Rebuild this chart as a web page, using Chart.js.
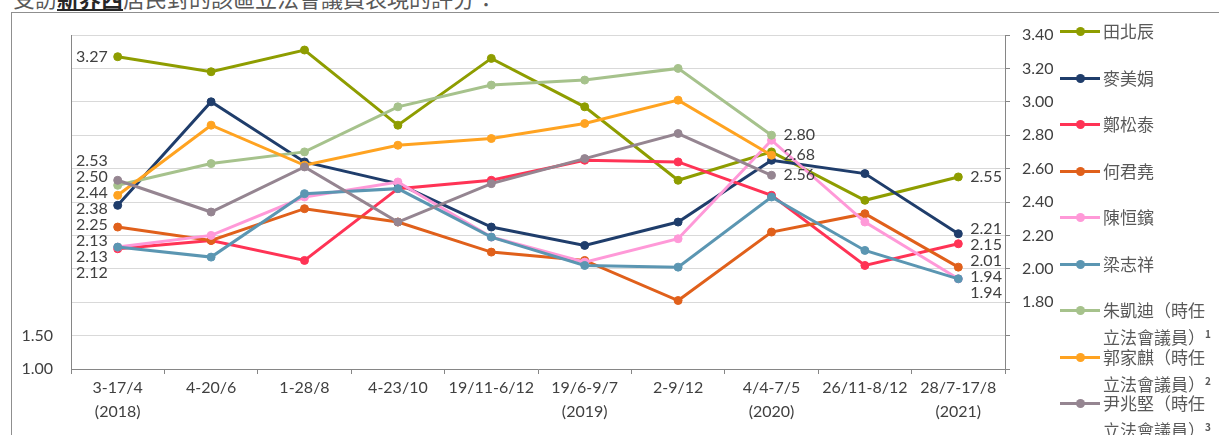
<!DOCTYPE html>
<html>
<head>
<meta charset="utf-8">
<script src="https://cdn.jsdelivr.net/npm/chart.js@4.4.1/dist/chart.umd.min.js"></script>
<style>
  html, body { margin: 0; padding: 0; background: #fff; overflow: hidden; }
  body { width: 1219px; height: 435px; position: relative; }
  .heading { position: absolute; left: 13px; top: -16px; font: 22px/26px "Noto Sans CJK TC", sans-serif; color: #595959; white-space: nowrap; }
  .heading b { color: #262626; text-decoration: underline; }
  .frame { position: absolute; left: 11px; top: 12px; width: 1300px; height: 500px; border: 1px solid #8f8f8f; box-sizing: border-box; }
  #chart { position: absolute; left: 0; top: 0; }
  .legend { position: absolute; left: 1060px; top: 0; }
  .legend .item { position: absolute; left: 0; display: flex; align-items: flex-start; }
  .legend .swatch { position: relative; width: 40px; height: 24px; flex: none; }
  .legend .swatch .ln { position: absolute; left: 0; top: 11px; width: 40px; height: 3px; }
  .legend .swatch .dot { position: absolute; left: 16px; top: 8px; width: 9px; height: 9px; border-radius: 50%; }
  .legend .txt { margin-left: 3px; width: 116px; font: 17px/24px "Noto Sans CJK TC", sans-serif; color: #595959; }
  .legend sup { font-size: 10px; font-weight: bold; vertical-align: 6px; }
</style>
</head>
<body>
<div class="heading">受訪<b>新界西</b>居民對的該區立法會議員表現的評分：</div>
<div class="frame"></div>
<canvas id="chart" width="1219" height="435"></canvas>
<div class="legend" id="legend"></div>
<script>
// survey rounds
const categories = [['3-17/4', '(2018)'], '4-20/6', '1-28/8', '4-23/10', '19/11-6/12',
  ['19/6-9/7', '(2019)'], '2-9/12', ['4/4-7/5', '(2020)'], '26/11-8/12', ['28/7-17/8', '(2021)']];

const seriesNames = ['田北辰', '麥美娟', '鄭松泰', '何君堯', '陳恒鑌', '梁志祥',
  '朱凱迪（時任立法會議員）', '郭家麒（時任立法會議員）', '尹兆堅（時任立法會議員）'];
const noteMarks = ['', '', '', '', '', '', '1', '2', '3'];
const seriesColors = ['#8e9d00', '#1f3d6b', '#ff3355', '#e0601b', '#ff99d8', '#5b96b2', '#a6c28c', '#ffa321', '#958591'];

const tinPakChun     = [3.27, 3.18, 3.31, 2.86, 3.26, 2.97, 2.53, 2.70, 2.41, 2.55];
const maiMeiKuen     = [2.38, 3.00, 2.64, 2.51, 2.25, 2.14, 2.28, 2.65, 2.57, 2.21];
const chengChungTai  = [2.12, 2.17, 2.05, 2.48, 2.53, 2.65, 2.64, 2.44, 2.02, 2.15];
const hoKwanYiu      = [2.25, 2.17, 2.36, 2.28, 2.10, 2.05, 1.81, 2.22, 2.33, 2.01];
const chanHangPan    = [2.13, 2.20, 2.43, 2.52, 2.19, 2.04, 2.18, 2.77, 2.28, 1.94];
const leungCheCheung = [2.13, 2.07, 2.45, 2.48, 2.19, 2.02, 2.01, 2.43, 2.11, 1.94];
const chuHoiDick     = [2.50, 2.63, 2.70, 2.97, 3.10, 3.13, 3.20, 2.80];
const kwokKaKi       = [2.44, 2.86, 2.62, 2.74, 2.78, 2.87, 3.01, 2.68];
const wanSiuKin      = [2.53, 2.34, 2.61, 2.28, 2.51, 2.66, 2.81, 2.56];

const seriesValues = [tinPakChun, maiMeiKuen, chengChungTai, hoKwanYiu, chanHangPan,
  leungCheCheung, chuHoiDick, kwokKaKi, wanSiuKin];

// axes: right one carries the data, left one only shows two labels
const rightMin = 1.4, rightMax = 3.4, rightStep = 0.2, rightFirstLabel = 1.8;
const leftMin = 1, leftMax = 6, leftStep = 0.5;
const leftLabels = [1.0, 1.5];

const numFont = 'Lato, "Liberation Sans", sans-serif';
const axisGrey = '#868686';
const textGrey = '#404040';

// spread labels of one column so they don't overlap
function spread(list, gap) {
  list.sort((a, b) => a.y - b.y);
  let clusters = list.map(l => ({ items: [l], center: l.y }));
  let merged = true;
  while (merged) {
    merged = false;
    for (let i = 0; i < clusters.length - 1; i++) {
      const a = clusters[i], b = clusters[i + 1];
      const aBottom = a.center + (a.items.length - 1) * gap / 2;
      const bTop = b.center - (b.items.length - 1) * gap / 2;
      if (bTop - aBottom < gap) {
        const items = a.items.concat(b.items);
        const center = items.reduce((s, l) => s + l.y, 0) / items.length;
        clusters.splice(i, 2, { items, center });
        merged = true;
        break;
      }
    }
  }
  clusters.forEach(c => c.items.forEach((l, k) => {
    l.ly = c.center + (k - (c.items.length - 1) / 2) * gap;
  }));
}

const endLabels = {
  id: 'endLabels',
  afterDatasetsDraw(chart) {
    const ctx = chart.ctx;
    const groups = {};
    chart.data.datasets.forEach((ds, i) => {
      const meta = chart.getDatasetMeta(i);
      const n = ds.data.length;
      [[0, 'left'], [n - 1, 'right']].forEach(([idx, side]) => {
        const pt = meta.data[idx];
        const key = side + Math.round(pt.x);
        (groups[key] = groups[key] || []).push({ x: pt.x, y: pt.y, side, text: ds.data[idx].toFixed(2) });
      });
    });
    ctx.save();
    ctx.font = '16px ' + numFont;
    ctx.fillStyle = textGrey;
    ctx.textBaseline = 'middle';
    Object.values(groups).forEach(list => {
      spread(list, 16);
      list.forEach(l => {
        ctx.textAlign = l.side === 'left' ? 'right' : 'left';
        ctx.fillText(l.text, l.side === 'left' ? l.x - 10 : l.x + 12, l.ly);
      });
    });
    ctx.restore();
  }
};

new Chart(document.getElementById('chart'), {
  type: 'line',
  data: {
    labels: categories,
    datasets: seriesNames.map((name, i) => ({
      label: name,
      data: seriesValues[i],
      yAxisID: 'y',
      borderColor: seriesColors[i],
      backgroundColor: seriesColors[i],
      pointBackgroundColor: seriesColors[i],
      pointBorderColor: seriesColors[i],
      borderWidth: 3,
      pointRadius: 4,
      pointBorderWidth: 1,
      tension: 0,
      order: -i
    }))
  },
  options: {
    responsive: false,
    devicePixelRatio: 1,
    animation: false,
    layout: { padding: { left: 11, top: 35, right: 0, bottom: 0 } },
    plugins: { legend: { display: false }, tooltip: { enabled: false } },
    scales: {
      x: {
        offset: true,
        grid: { offset: true, drawOnChartArea: false, drawTicks: true, tickLength: 5, tickColor: axisGrey },
        border: { color: axisGrey },
        ticks: { color: textGrey, font: { family: numFont, size: 16, lineHeight: 1.5 }, padding: 2, maxRotation: 0, autoSkip: false },
        afterFit: s => { s.height = 66; }
      },
      yL: {
        position: 'left',
        min: leftMin,
        max: leftMax,
        grid: { display: false, drawTicks: false },
        border: { display: true, color: axisGrey },
        ticks: {
          stepSize: leftStep,
          padding: 18,
          color: textGrey,
          font: { family: numFont, size: 16 },
          callback: v => leftLabels.some(t => Math.abs(t - v) < 1e-6) ? v.toFixed(2) : ''
        },
        afterFit: s => { s.width = 60; }
      },
      y: {
        position: 'right',
        min: rightMin,
        max: rightMax,
        grid: { color: '#d9d9d9', tickColor: axisGrey, tickLength: 5 },
        border: { color: axisGrey },
        ticks: {
          stepSize: rightStep,
          padding: 12,
          color: textGrey,
          font: { family: numFont, size: 16 },
          callback: v => v >= rightFirstLabel - 1e-6 ? v.toFixed(2) : ''
        },
        afterFit: s => { s.width = 214; }
      }
    }
  },
  plugins: [endLabels]
});

// legend on the right
const legend = document.getElementById('legend');
seriesNames.forEach((name, i) => {
  const item = document.createElement('div');
  item.className = 'item';
  item.style.top = (19 + i * 46.5) + 'px';
  item.innerHTML =
    '<div class="swatch"><div class="ln" style="background:' + seriesColors[i] + '"></div>' +
    '<div class="dot" style="background:' + seriesColors[i] + '"></div></div>' +
    '<div class="txt">' + name + (noteMarks[i] ? '<sup>' + noteMarks[i] + '</sup>' : '') + '</div>';
  legend.appendChild(item);
});
</script>
</body>
</html>
